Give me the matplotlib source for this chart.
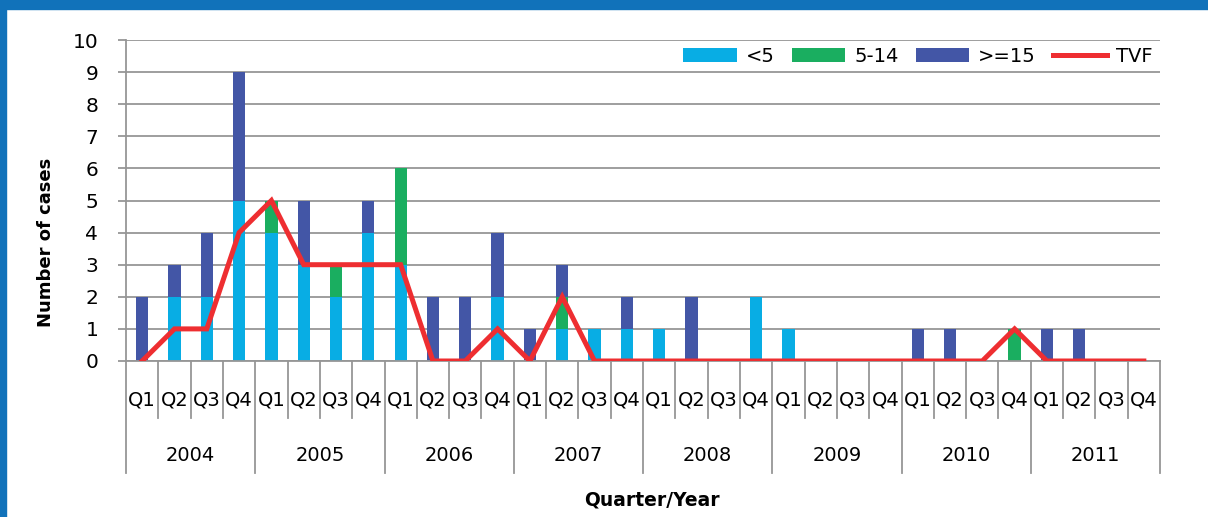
import matplotlib
matplotlib.use("Agg")
import matplotlib.pyplot as plt
import matplotlib.patches as mpatches
import matplotlib.transforms as mtransforms
import numpy as np

# data
years = ["2004", "2005", "2006", "2007", "2008", "2009", "2010", "2011"]
quarters = ["Q1", "Q2", "Q3", "Q4"]
under5 = [0, 2, 2, 5,  4, 3, 2, 4,  3, 0, 0, 2,  0, 1, 1, 1,
          1, 0, 0, 2,  1, 0, 0, 0,  0, 0, 0, 0,  0, 0, 0, 0]
age5_14 = [0, 0, 0, 0,  1, 0, 1, 0,  3, 0, 0, 0,  0, 1, 0, 0,
           0, 0, 0, 0,  0, 0, 0, 0,  0, 0, 0, 1,  0, 0, 0, 0]
age15plus = [2, 1, 2, 4,  0, 2, 0, 1,  0, 2, 2, 2,  1, 1, 0, 1,
             0, 2, 0, 0,  0, 0, 0, 0,  1, 1, 0, 0,  1, 1, 0, 0]
tvf = [0, 1, 1, 4,  5, 3, 3, 3,  3, 0, 0, 1,  0, 2, 0, 0,
       0, 0, 0, 0,  0, 0, 0, 0,  0, 0, 0, 1,  0, 0, 0, 0]

c_lt5 = "#08ade4"
c_mid = "#1aae60"
c_ge15 = "#4356a6"
c_tvf = "#ee2e31"
c_grid = "#969696"

fig = plt.figure(figsize=(12.08, 5.17), dpi=100)
ax = fig.add_axes([126/1208, 1-361/517, (1160-126)/1208, (361-40)/517])

x = np.arange(len(under5))
a = np.array(under5)
b = np.array(age5_14)
c = np.array(age15plus)
w = 0.38
b1 = ax.bar(x, a, w, color=c_lt5, label="<5", zorder=2)
b2 = ax.bar(x, b, w, bottom=a, color=c_mid, label="5-14", zorder=2)
b3 = ax.bar(x, c, w, bottom=a+b, color=c_ge15, label=">=15", zorder=2)
l1, = ax.plot(x, tvf, color=c_tvf, lw=3.6, label="TVF", zorder=3,
              solid_joinstyle="miter")

ax.set_xlim(-0.5, len(x)-0.5)
ax.set_ylim(0, 10)
ax.set_yticks(range(0, 11))
ax.yaxis.grid(True, color=c_grid, lw=1.3, zorder=0)
ax.set_axisbelow(True)
for s in ["top", "right"]:
    ax.spines[s].set_visible(False)
for s in ["left", "bottom"]:
    ax.spines[s].set_color(c_grid)
    ax.spines[s].set_linewidth(1.3)
ax.tick_params(axis="y", length=6, width=1.3, color=c_grid, pad=14,
               labelsize=14.5)

# quarter labels
ax.set_xticks(x)
ax.set_xticklabels(quarters*len(years), fontsize=14)
ax.tick_params(axis="x", length=0, pad=21)

# multi-level category separators
trans = mtransforms.blended_transform_factory(ax.transData, ax.transAxes)
for k in range(len(x)+1):
    bottom = -0.35 if k % 4 == 0 else -0.178
    ax.plot([k-0.5, k-0.5], [0, bottom], color=c_grid, lw=1.3,
            transform=trans, clip_on=False)
for i, yr in enumerate(years):
    ax.text(4*i+1.5, -0.293, yr, transform=trans, ha="center", va="center",
            fontsize=14)

fig.text(652/1208, 1-500/517, "Quarter/Year", ha="center", va="center",
         fontsize=13.5, fontweight="bold")
fig.text(46/1208, 1-242/517, "Number of cases", ha="center", va="center",
         rotation=90, fontsize=13, fontweight="bold",
         family=["Liberation Sans Narrow", "DejaVu Sans"])

leg = ax.legend([b1, b2, b3, l1], ["<5", "5-14", ">=15", "TVF"],
                ncol=4, frameon=False, loc="center right",
                bbox_to_anchor=(1.0, 1-(56-40)/321), fontsize=14,
                handlelength=2.75, handleheight=0.7, handletextpad=0.45,
                columnspacing=0.9, borderaxespad=0)

# blue frame strips at top and left
fig.patches.append(mpatches.Rectangle((0, 1-9/517), 1, 9/517,
                   transform=fig.transFigure, color="#1172ba", zorder=0))
fig.patches.append(mpatches.Rectangle((0, 0), 6/1208, 1,
                   transform=fig.transFigure, color="#1172ba", zorder=0))

fig.savefig("out.png", dpi=100)
